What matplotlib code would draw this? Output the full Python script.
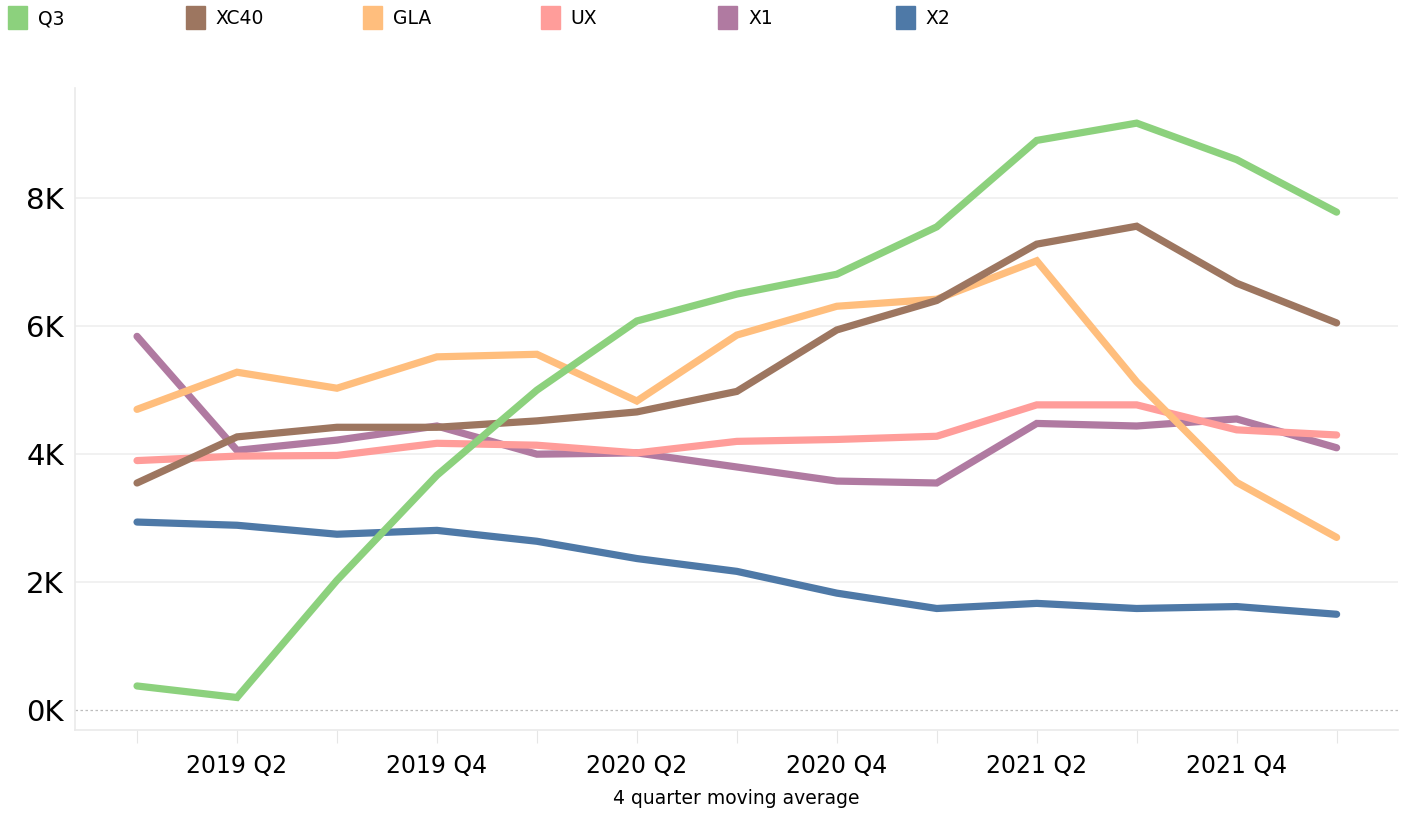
import matplotlib.pyplot as plt
from matplotlib.patches import Rectangle

quarters = ["2019 Q1", "2019 Q2", "2019 Q3", "2019 Q4", "2020 Q1", "2020 Q2", "2020 Q3",
            "2020 Q4", "2021 Q1", "2021 Q2", "2021 Q3", "2021 Q4", "2022 Q1"]

q3 = [0.38, 0.2, 2.03, 3.67, 5.0, 6.08, 6.5, 6.81, 7.55, 8.9, 9.17, 8.6, 7.78]
xc40 = [3.55, 4.27, 4.42, 4.42, 4.52, 4.66, 4.98, 5.94, 6.4, 7.28, 7.56, 6.67, 6.05]
gla = [4.7, 5.28, 5.03, 5.52, 5.56, 4.83, 5.86, 6.31, 6.42, 7.02, 5.13, 3.56, 2.7]
ux = [3.9, 3.97, 3.98, 4.17, 4.14, 4.02, 4.2, 4.23, 4.28, 4.77, 4.77, 4.38, 4.3]
x1 = [5.84, 4.06, 4.22, 4.44, 4.0, 4.02, 3.8, 3.58, 3.55, 4.48, 4.44, 4.55, 4.1]
x2 = [2.94, 2.89, 2.75, 2.81, 2.64, 2.37, 2.17, 1.83, 1.59, 1.67, 1.59, 1.62, 1.5]

names = ["Q3", "XC40", "GLA", "UX", "X1", "X2"]
series = [q3, xc40, gla, ux, x1, x2]
colors = ["#8CD17D", "#9D7660", "#FFBE7D", "#FF9D9A", "#B07AA1", "#4E79A7"]

fig = plt.figure(figsize=(14.16, 8.14), dpi=100)
ax = fig.add_axes([0.053, 0.103, 0.934, 0.789])

x = list(range(len(quarters)))
# first series in the legend sits on top
for i in reversed(range(len(series))):
    ax.plot(x, series[i], color=colors[i], lw=5.2, solid_capstyle="round",
            solid_joinstyle="miter", zorder=3 + len(series) - i)

ax.set_xlim(-0.62, 12.61)
ax.set_ylim(-0.31, 9.72)

ax.set_yticks([0, 2, 4, 6, 8])
ax.set_yticklabels(["0K", "2K", "4K", "6K", "8K"], fontsize=21)
ax.set_xticks(x)
ax.set_xticklabels([q if i % 2 == 1 else "" for i, q in enumerate(quarters)], fontsize=17)
ax.tick_params(axis="y", length=0, pad=8)
ax.tick_params(axis="x", length=9, color="#e6e6e6", pad=8)

for v in [2, 4, 6, 8]:
    ax.axhline(v, color="#efefef", lw=1.2, zorder=1)
ax.axhline(0, color="#bdbdbd", lw=0.9, ls=(0, (2, 2)), zorder=1)

for s in ["top", "right"]:
    ax.spines[s].set_visible(False)
for s in ["left", "bottom"]:
    ax.spines[s].set_color("#eaeaea")
    ax.spines[s].set_linewidth(1.2)

ax.set_xlabel("4 quarter moving average", fontsize=13.5, labelpad=8)

# legend across the top
for i, name in enumerate(names):
    x0 = 8 + i * 177.5
    fig.patches.append(Rectangle((x0 / 1416, 1 - 29 / 814), 19 / 1416, 23 / 814,
                                 transform=fig.transFigure, color=colors[i]))
    fig.text((x0 + 30) / 1416, 1 - 19 / 814, name, fontsize=13.5, va="center", ha="left")

fig.savefig("out.png", dpi=100)
